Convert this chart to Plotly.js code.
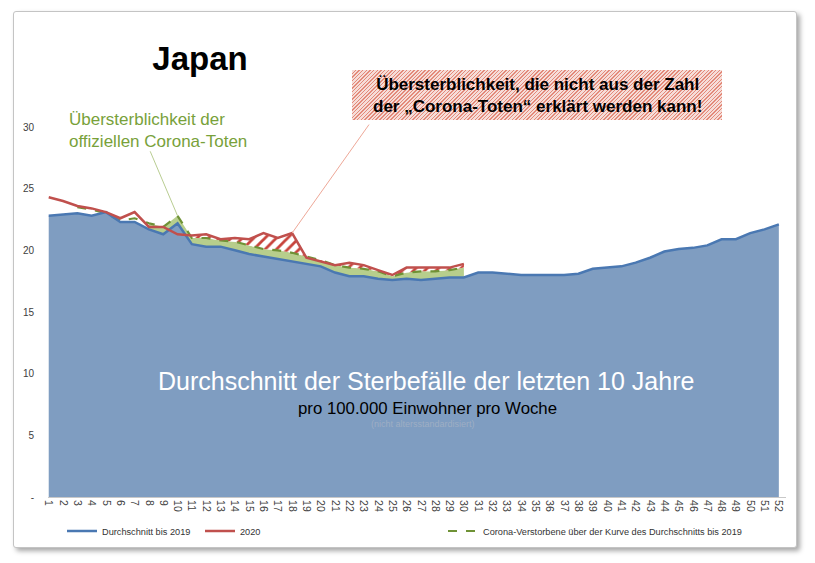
<!DOCTYPE html>
<html>
<head>
<meta charset="utf-8">
<script src="https://cdn.plot.ly/plotly-3.0.1.min.js"></script>
<style>
  html, body { margin: 0; padding: 0; background: #ffffff; }
  #wrap { position: relative; width: 815px; height: 563px; overflow: hidden; }
  #frame { position: absolute; left: 13px; top: 11px; width: 782px; height: 535px;
           border: 1px solid #c4c4c4; border-radius: 3px; background: #fff;
           box-shadow: 3px 3px 5px rgba(0,0,0,0.35); }
  #box { position: absolute; left: 352px; top: 70px; width: 370px; height: 50px;
         background: repeating-linear-gradient(-45deg, #e38a7a 0px, #e38a7a 1px, #f6ddd8 1px, #f6ddd8 2.6px); }
  #chart { position: absolute; left: 0; top: 0; width: 815px; height: 563px; }
</style>
</head>
<body>
<div id="wrap">
  <div id="frame"></div>
  <div id="box"></div>
  <div id="chart"></div>
</div>
<script>
// ---- data ----
const weeks = [1,2,3,4,5,6,7,8,9,10,11,12,13,14,15,16,17,18,19,20,21,22,23,24,25,26,
               27,28,29,30,31,32,33,34,35,36,37,38,39,40,41,42,43,44,45,46,47,48,49,50,51,52];
const weekLabels = weeks.map(String);

// Durchschnitt bis 2019 (deaths per 100,000 per week)
const avg2019 = [22.8,22.9,23.0,22.8,23.1,22.3,22.3,21.7,21.3,22.2,20.5,20.3,20.3,20.0,19.7,19.5,
                 19.3,19.1,18.9,18.7,18.2,17.9,17.9,17.7,17.6,17.7,17.6,17.7,17.8,17.8,18.2,18.2,
                 18.1,18.0,18.0,18.0,18.0,18.1,18.5,18.6,18.7,19.0,19.4,19.9,20.1,20.2,20.4,20.9,
                 20.9,21.4,21.7,22.1];

// 2020 (weeks 1-30)
const y2020 = [24.3,24.0,23.6,23.4,23.1,22.6,23.1,21.9,21.9,21.3,21.2,21.3,20.9,21.0,20.9,21.4,
               21.0,21.4,19.4,19.1,18.8,19.0,18.8,18.4,18.0,18.6,18.6,18.6,18.6,18.9];

// Corona-Verstorbene ueber der Kurve des Durchschnitts bis 2019 (weeks 1-30)
const corona = [null,null,23.5,23.3,23.0,22.4,22.6,22.2,21.9,22.8,21.0,21.0,20.8,20.7,20.4,20.1,
                20.0,19.8,19.5,19.2,18.8,18.6,18.5,18.3,17.9,18.2,18.3,18.3,18.4,18.6];

const yTickVals = [0,5,10,15,20,25,30];
const yTickText = ['-','5','10','15','20','25','30'];

// ---- derived slices for the shaded bands ----
const bandStart = 7;   // index of week 8
const hatchStart = 10; // index of week 11
const wk30 = weeks.slice(0, 30);

const FONT = 'Liberation Sans, Arial, sans-serif';

const traces = [
  { x: weeks, y: avg2019, type: 'scatter', mode: 'lines', fill: 'tozeroy',
    fillcolor: '#7f9dc1', line: { width: 0, color: '#4a78b2' }, showlegend: false, hoverinfo: 'skip' },
  { x: wk30.slice(bandStart), y: avg2019.slice(bandStart, 30), type: 'scatter', mode: 'lines',
    line: { width: 0 }, showlegend: false, hoverinfo: 'skip' },
  { x: wk30.slice(bandStart), y: corona.slice(bandStart), type: 'scatter', mode: 'lines',
    fill: 'tonexty', fillcolor: '#b7ce8c', line: { width: 0 }, showlegend: false, hoverinfo: 'skip' },
  { x: wk30.slice(hatchStart), y: corona.slice(hatchStart), type: 'scatter', mode: 'lines',
    line: { width: 0 }, showlegend: false, hoverinfo: 'skip' },
  { x: wk30.slice(hatchStart), y: y2020.slice(hatchStart), type: 'scatter', mode: 'lines',
    fill: 'tonexty', fillcolor: '#ffffff',
    fillpattern: { shape: '/', fgcolor: '#c8433b', bgcolor: '#ffffff', size: 8, solidity: 0.35 },
    line: { width: 0 }, showlegend: false, hoverinfo: 'skip' },
  { x: wk30, y: corona, type: 'scatter', mode: 'lines', name: 'Corona-Verstorbene über der Kurve des Durchschnitts bis 2019',
    line: { color: '#6f9236', width: 2.2, dash: 'dash' }, legend: 'legend3' },
  { x: weeks, y: avg2019, type: 'scatter', mode: 'lines', name: 'Durchschnitt bis 2019',
    line: { color: '#4a78b2', width: 2.5 }, legend: 'legend' },
  { x: wk30, y: y2020, type: 'scatter', mode: 'lines', name: '2020',
    line: { color: '#c0504d', width: 2.5 }, legend: 'legend2' }
];

const L = 48, R = 29, T = 127, B = 66;
const PW = 815 - L - R, PH = 563 - T - B;
const px = X => (X - L) / PW;
const py = Y => (563 - B - Y) / PH;

const legendBase = { orientation: 'h', yanchor: 'middle', xanchor: 'left', bgcolor: 'rgba(0,0,0,0)',
                     font: { family: FONT, size: 9.2, color: '#333333' }, itemwidth: 30 };

const note = (text, X, Y, size, color, extra) => Object.assign({
  text: text, xref: 'paper', yref: 'paper', x: px(X), y: py(Y), xanchor: 'center', yanchor: 'middle',
  showarrow: false, font: { family: FONT, size: size, color: color } }, extra || {});

const layout = {
  width: 815, height: 563,
  margin: { l: L, r: R, t: T, b: B },
  paper_bgcolor: 'rgba(0,0,0,0)', plot_bgcolor: 'rgba(0,0,0,0)',
  font: { family: FONT },
  title: { text: '<b>Japan</b>', font: { family: FONT, size: 33, color: '#000000' },
           x: 200 / 815, xanchor: 'center', y: 1 - 58 / 563, yanchor: 'middle', xref: 'container', yref: 'container' },
  xaxis: { range: [0.95, 52.5], tickvals: weeks, ticktext: weekLabels, tickangle: 90,
           tickfont: { family: FONT, size: 10.5, color: '#404040' }, showgrid: false, zeroline: false,
           showline: true, linecolor: '#c8c8c8', linewidth: 1, ticks: '', fixedrange: true },
  yaxis: { range: [0, 30], tickvals: yTickVals, ticktext: yTickText, showgrid: false, zeroline: false,
           showline: false, ticks: '', tickfont: { family: FONT, size: 10, color: '#404040' },
           ticklabelstandoff: 13, fixedrange: true },
  showlegend: true,
  legend: Object.assign({}, legendBase, { x: px(62), y: py(531) }),
  legend2: Object.assign({}, legendBase, { x: px(200), y: py(531) }),
  legend3: Object.assign({}, legendBase, { x: px(443), y: py(531) }),
  annotations: [
    note('Durchschnitt der Sterbefälle der letzten 10 Jahre', 426, 381, 25, '#ffffff'),
    note('pro 100.000 Einwohner pro Woche', 427, 408, 16.8, '#000000'),
    note('(nicht altersstandardisiert)', 423, 424, 9, '#9eaec4'),
    note('Übersterblichkeit der<br>offiziellen Corona-Toten', 67, 130, 17, '#78a13a',
         { xanchor: 'left', align: 'left' }),
    note('<b>Übersterblichkeit, die nicht aus der Zahl<br>der „Corona-Toten“ erklärt werden kann!</b>',
         537, 96, 17, '#000000'),
    { text: '', x: weeks[9], y: corona[9], xref: 'x', yref: 'y', showarrow: true, arrowhead: 0,
      arrowwidth: 1, arrowcolor: '#b9cd92', ax: -28, ay: -66, standoff: 0 },
    { text: '', x: weeks[17], y: y2020[17], xref: 'x', yref: 'y', showarrow: true, arrowhead: 0,
      arrowwidth: 1, arrowcolor: '#eea898', ax: 78, ay: -110, standoff: 0 }
  ]
};

Plotly.newPlot('chart', traces, layout, { displayModeBar: false, staticPlot: true });
</script>
</body>
</html>
